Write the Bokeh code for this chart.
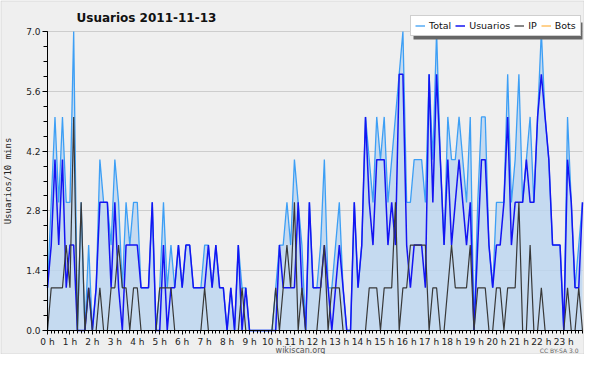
from bokeh.plotting import figure
from bokeh.models import (ColumnDataSource, FixedTicker, PrintfTickFormatter, Legend,
                          LegendItem, Label, Range1d, BoxAnnotation)
from bokeh.embed import file_html
from bokeh.resources import INLINE

# ---- data (10-minute slots, 2011-11-13) ----
usuarios = [1, 2, 4, 2, 4, 1, 2, 2, 0, 0, 0, 1, 0, 1, 3, 3, 3, 1, 3, 1, 0, 2, 2, 2,
            2, 1, 1, 1, 3, 0, 0, 2, 0, 1, 1, 2, 1, 2, 2, 1, 1, 1, 1, 2, 1, 2, 1, 1,
            0, 1, 0, 2, 0, 1, 0, 0, 0, 0, 0, 0, 0, 0, 2, 1, 1, 1, 1, 3, 1, 0, 3, 1,
            1, 1, 2, 1, 0, 1, 2, 1, 0, 0, 3, 1, 2, 5, 3, 2, 4, 4, 4, 2, 3, 2, 6, 6,
            2, 1, 2, 2, 2, 1, 6, 3, 6, 4, 2, 4, 2, 3, 4, 3, 2, 3, 0, 2, 4, 4, 2, 1,
            2, 2, 3, 5, 2, 3, 3, 3, 4, 3, 3, 5, 6, 5, 4, 2, 2, 2, 0, 4, 3, 1, 1, 3]
ip = [0, 1, 1, 1, 1, 2, 1, 5, 0, 3, 0, 1, 0, 0, 1, 0, 0, 1, 1, 2, 1, 1, 0, 1,
      1, 0, 0, 0, 0, 0, 1, 1, 1, 1, 0, 0, 0, 0, 0, 0, 0, 0, 1, 0, 0, 0, 0, 0,
      0, 0, 0, 0, 1, 0, 0, 0, 0, 0, 0, 0, 0, 1, 0, 1, 2, 1, 3, 0, 1, 0, 0, 0,
      0, 1, 2, 0, 1, 1, 1, 0, 0, 0, 0, 0, 0, 0, 1, 1, 1, 0, 1, 1, 1, 3, 0, 1,
      1, 2, 2, 2, 2, 2, 0, 1, 1, 0, 0, 1, 2, 1, 1, 1, 1, 2, 0, 1, 1, 1, 0, 0,
      1, 1, 0, 1, 1, 1, 3, 0, 0, 2, 0, 0, 1, 0, 0, 0, 0, 0, 0, 1, 0, 0, 1, 0]
total = [1, 3, 5, 3, 5, 3, 3, 7, 0, 3, 0, 2, 0, 1, 4, 3, 3, 2, 4, 3, 1, 3, 2, 3,
         3, 1, 1, 1, 3, 0, 1, 3, 1, 2, 1, 2, 1, 2, 2, 1, 1, 1, 2, 2, 1, 2, 1, 1,
         0, 1, 0, 2, 1, 1, 0, 0, 0, 0, 0, 0, 0, 1, 2, 2, 3, 2, 4, 3, 2, 0, 3, 1,
         1, 2, 4, 1, 1, 2, 3, 1, 0, 0, 3, 1, 2, 5, 4, 3, 5, 4, 5, 3, 4, 5, 6, 7,
         3, 3, 4, 4, 4, 3, 6, 4, 7, 4, 2, 5, 4, 4, 5, 4, 3, 5, 0, 3, 5, 5, 2, 1,
         3, 3, 3, 6, 3, 4, 6, 3, 4, 5, 3, 5, 7, 5, 4, 2, 2, 2, 0, 5, 3, 1, 2, 3]
bots = [0] * 144
slots = list(range(144))
hour_ticks = list(range(24))
hour_labels = [f"{h} h" for h in hour_ticks]
y_ticks = [0.0, 1.4, 2.8, 4.2, 5.6, 7.0]

# ---- layout (pixels); the frame covers the whole canvas, axes sit at 0 ----
W, H = 584, 354
X0, X1 = 47, 582            # pixel columns of 0 h and of the last slot
Y0, Y7 = 330, 31            # pixel rows of 0.0 and 7.0
XMAX = 143 / 6
px = (X1 - X0) / XMAX
py = (Y0 - Y7) / 7.0
x_lo, x_hi = -X0 / px, XMAX + (W - X1) / px
y_lo, y_hi = -(H - Y0) / py, 7.0 + Y7 / py


def sx(pix):  # screen x measured from the frame's left edge
    return pix


def sy(pix):  # screen y measured from the frame's bottom edge
    return H - pix


def dx(pix):  # pixel column -> data x
    return (pix - X0) / px


def dy(pix):  # pixel row -> data y
    return (Y0 - pix) / py


BG = "#efefef"
src = ColumnDataSource(dict(x=[s / 6 for s in slots], usuarios=usuarios, ip=ip,
                            total=total, bots=bots, zero=[0] * 144))

p = figure(width=W, height=H, output_backend="svg", toolbar_location=None,
           x_range=Range1d(x_lo, x_hi), y_range=Range1d(y_lo, y_hi),
           min_border_left=0, min_border_right=0, min_border_top=0, min_border_bottom=0,
           background_fill_color=BG, border_fill_color=BG, outline_line_color=None)
p.title.text = ""
p.title.visible = False

r_bots = p.line("x", "bots", source=src, line_color="#ffa31a", line_width=1.0)
p.varea(x="x", y1="zero", y2="total", source=src, fill_color="#bcd6f0", fill_alpha=0.82)
r_total = p.line("x", "total", source=src, line_color="#3d9ff5", line_width=1.3)
r_usu = p.line("x", "usuarios", source=src, line_color="#1414f2", line_width=1.5)
r_ip = p.line("x", "ip", source=src, line_color="#383838", line_width=1.2)

# axes at fixed positions
p.xaxis.fixed_location = 0
p.yaxis.fixed_location = 0
p.xaxis.bounds = (0, XMAX)
p.yaxis.bounds = (0, 7)
p.xaxis.ticker = FixedTicker(ticks=hour_ticks, minor_ticks=[s / 6 for s in slots])
p.xaxis.major_label_overrides = {h: lab for h, lab in zip(hour_ticks, hour_labels)}
p.yaxis.ticker = FixedTicker(ticks=y_ticks, minor_ticks=[k * 0.35 for k in range(21)])
p.yaxis.formatter = PrintfTickFormatter(format="%.1f")
for ax in (p.xaxis[0], p.yaxis[0]):
    ax.axis_line_color = "black"
    ax.major_tick_line_color = "black"
    ax.minor_tick_line_color = "black"
    ax.major_tick_in = 0
    ax.minor_tick_in = 0
    ax.major_label_text_font = "DejaVu Sans"
    ax.major_label_text_font_size = "9px"
    ax.major_label_text_color = "#222222"
    ax.major_label_standoff = 2
p.xaxis.major_tick_out = 4
p.xaxis.minor_tick_out = 3
p.yaxis.major_tick_out = 5
p.yaxis.minor_tick_out = 4
p.yaxis.axis_label = "Usuarios/10 mins"
p.yaxis.axis_label_text_font = "DejaVu Sans Mono"
p.yaxis.axis_label_text_font_style = "normal"
p.yaxis.axis_label_text_font_size = "9px"
p.yaxis.axis_label_text_color = "#222222"
p.yaxis.axis_label_standoff = 10

# horizontal grid only, limited to the data area
p.xgrid.visible = False
grid = p.ygrid[0]
grid.ticker = FixedTicker(ticks=y_ticks)
grid.grid_line_color = "#cdcdcd"
if "cross_bounds" in grid.properties():
    grid.cross_bounds = (0, XMAX)
else:
    grid.visible = False
    p.segment(x0=[0] * len(y_ticks), x1=[XMAX] * len(y_ticks), y0=y_ticks, y1=y_ticks,
              line_color="#cdcdcd", level="underlay")

# thin outer border of the picture
p.add_layout(BoxAnnotation(left=x_lo + 0.5 / px, right=x_hi - 0.5 / px,
                           bottom=y_lo + 0.5 / py, top=y_hi - 0.5 / py,
                           fill_alpha=0.0, line_color="#a9a9a9", line_width=1,
                           level="underlay"))

# title
p.add_layout(Label(x=sx(76), y=sy(17), x_units="screen", y_units="screen",
                   text="Usuarios  2011-11-13", text_font="DejaVu Sans",
                   text_font_style="bold", text_font_size="12px", text_color="#111111",
                   text_baseline="middle"))

# legend with drop shadow
LX0, LX1, LY0, LY1 = 410, 579, 19, 36     # legend box (pixels)
SH = 3
p.add_layout(BoxAnnotation(left=dx(LX0 + SH), right=dx(LX1 + SH),
                           top=dy(LY0 + SH), bottom=dy(LY1 + SH),
                           fill_color="#666666", fill_alpha=1.0, line_color=None))
legend = Legend(items=[LegendItem(label="Total", renderers=[r_total]),
                       LegendItem(label="Usuarios", renderers=[r_usu]),
                       LegendItem(label="IP", renderers=[r_ip]),
                       LegendItem(label="Bots", renderers=[r_bots])],
                orientation="horizontal", location=(sx(LX0), sy(LY1)),
                label_text_font="DejaVu Sans", label_text_font_size="9.5px",
                label_text_color="#111111", label_width=0,
                glyph_width=10, glyph_height=9, label_height=9, label_standoff=4,
                spacing=4, padding=4, margin=0, border_line_color="#a0a0a0",
                border_line_width=1, background_fill_color="white",
                background_fill_alpha=1.0)
p.add_layout(legend, "center")

# footers
p.add_layout(Label(x=sx(300), y=sy(350), x_units="screen", y_units="screen",
                   text="wikiscan.org", text_font="DejaVu Sans", text_font_size="8px",
                   text_color="#555555", text_align="center", text_baseline="alphabetic"))
p.add_layout(Label(x=sx(578), y=sy(350), x_units="screen", y_units="screen",
                   text="CC BY-SA 3.0", text_font="DejaVu Sans", text_font_size="6px",
                   text_color="#666666", text_align="right", text_baseline="alphabetic"))

open("out.html", "w").write(file_html(p, INLINE))
